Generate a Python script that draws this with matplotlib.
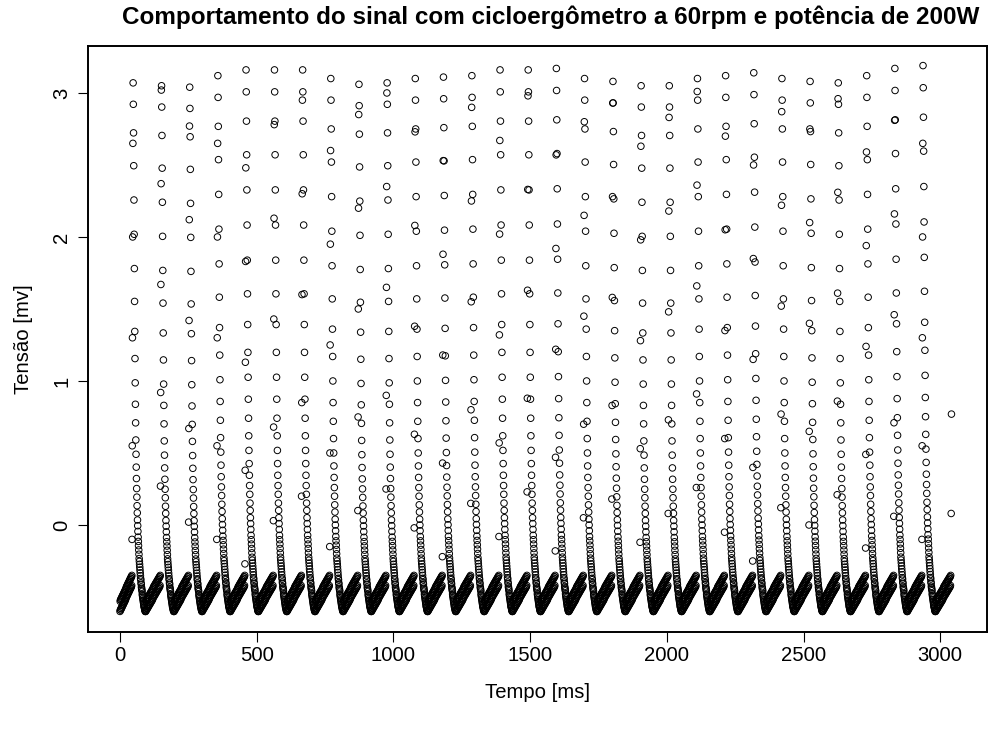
import numpy as np
import matplotlib.pyplot as plt

plt.rcParams['font.family'] = ['Liberation Sans', 'DejaVu Sans']

# time of each pulse peak (ms) and its peak voltage (mV)
peak_ms = [48, 152, 255, 358, 461, 565, 668, 771, 874, 977, 1080, 1183, 1287, 1390,
           1493, 1596, 1699, 1803, 1906, 2009, 2112, 2215, 2318, 2421, 2524, 2627,
           2731, 2834, 2937]
peak_mv = [3.07, 3.05, 3.04, 3.12, 3.16, 3.16, 3.16, 3.10, 3.06, 3.07, 3.10, 3.11,
           3.12, 3.16, 3.16, 3.17, 3.10, 3.08, 3.05, 3.05, 3.10, 3.12, 3.14, 3.10,
           3.08, 3.07, 3.12, 3.17, 3.19]
# offset of the rising-edge samples in each pulse (mV)
rise_shift_mv = [0.00, 0.37, 0.12, 0.00, -0.17, 0.13, 0.30, -0.05, 0.20, 0.35,
                 0.08, -0.12, 0.25, 0.02, 0.33, -0.08, 0.15, 0.28, -0.02, 0.18,
                 0.36, 0.05, -0.15, 0.22, 0.10, 0.31, -0.06, 0.16, 0.00]

# one pulse, sample by sample: fast rise, decay, slow baseline ramp
rise_mv = [-0.10, 0.55, 1.30, 2.00, 2.65]
fall_mv = [3.10, 2.95, 2.75, 2.52, 2.28, 2.04, 1.80, 1.57, 1.36, 1.17, 1.00, 0.85,
           0.72, 0.60, 0.50, 0.41, 0.33, 0.26, 0.20, 0.14, 0.09, 0.04, 0.00, -0.04,
           -0.08, -0.11, -0.14, -0.17, -0.20, -0.23, -0.25, -0.27, -0.29, -0.31,
           -0.33, -0.35, -0.37, -0.38, -0.40, -0.41, -0.43, -0.44, -0.45, -0.46,
           -0.48, -0.49, -0.50, -0.51, -0.52, -0.53, -0.54, -0.55, -0.56, -0.57,
           -0.57, -0.58, -0.59, -0.59, -0.60, -0.60]
base_mv = [-0.60, -0.53, -0.59, -0.52, -0.59, -0.52, -0.58, -0.51, -0.58, -0.51,
           -0.57, -0.50, -0.57, -0.50, -0.56, -0.49, -0.56, -0.49, -0.55, -0.48,
           -0.55, -0.48, -0.54, -0.47, -0.54, -0.47, -0.53, -0.46, -0.53, -0.46,
           -0.52, -0.45, -0.52, -0.45, -0.51, -0.44, -0.50, -0.43, -0.50, -0.43,
           -0.49, -0.42, -0.49, -0.42, -0.48, -0.41, -0.48, -0.41, -0.47, -0.40,
           -0.47, -0.40, -0.46, -0.39, -0.46, -0.39, -0.45, -0.38, -0.45, -0.38,
           -0.44, -0.37, -0.44, -0.37, -0.43, -0.36, -0.43, -0.36, -0.42, -0.35]
tail_mv = [0.08, 0.77]
end_ms = 3041

rise_dur, fall_dur = 4.0, 45.0
bottom = fall_mv[-1]
t_parts, v_parts = [], []
prev_end = 0.0
for pk, top, sh in zip(peak_ms, peak_mv, rise_shift_mv):
    rs = pk - rise_dur
    t_parts.append(np.linspace(prev_end, rs, len(base_mv), endpoint=False))
    v_parts.append(np.array(base_mv))
    t_parts.append(np.linspace(rs, pk, len(rise_mv), endpoint=False))
    v_parts.append(np.array(rise_mv) + sh)
    scale = (top - bottom) / (fall_mv[0] - bottom)
    t_parts.append(np.linspace(pk, pk + fall_dur, len(fall_mv)))
    v_parts.append(bottom + (np.array(fall_mv) - bottom) * scale)
    prev_end = pk + fall_dur + 1
t_parts.append(np.linspace(prev_end, end_ms - 2, len(base_mv), endpoint=False))
v_parts.append(np.array(base_mv))
t_parts.append(np.linspace(end_ms - 1, end_ms, len(tail_mv)))
v_parts.append(np.array(tail_mv))

t = np.concatenate(t_parts)
v = np.concatenate(v_parts)

fig = plt.figure(figsize=(9.9, 7.29), dpi=100)
ax = fig.add_axes([88/990, 1 - 632/729, (987 - 88)/990, (632 - 46)/729])
ax.scatter(t, v, s=22, facecolors='none', edgecolors='black', linewidths=0.7)

ax.set_xlim(-117, 3171)
ax.set_ylim(-0.743, 3.326)
ax.set_xticks([0, 500, 1000, 1500, 2000, 2500, 3000])
ax.set_yticks([0, 1, 2, 3])
for sp in ax.spines.values():
    sp.set_linewidth(1.4)
ax.tick_params(direction='out', length=7, width=0.8, labelsize=14.6)
ax.tick_params(axis='x', pad=3)
ax.tick_params(axis='y', pad=5)
plt.setp(ax.get_yticklabels(), rotation=90, va='center')

ax.set_xlabel('Tempo [ms]', fontsize=14.6, labelpad=13)
ax.set_ylabel('Tensão [mv]', fontsize=14.6, labelpad=14)
fig.text(551/990, 1 - 17/729,
         'Comportamento do sinal com cicloergômetro a 60rpm e potência de 200W',
         fontsize=17.5, fontweight='bold', ha='center', va='center')

fig.savefig('out.png', dpi=100)
